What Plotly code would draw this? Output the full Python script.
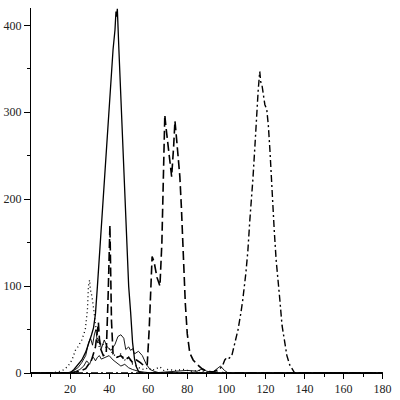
import plotly.graph_objects as go

# Series A: main solid peak near 44
x_A = [0,10,18,20,22,24,26,28,30,31,32,33,34,35,36,37,38,39,40,41,42,43,43.5,43.8,44.2,45,46,47,48,49,50,51,52,53,54,55,56,60,80,100,120,140,160,180]
y_A = [0,0,0,0,4,10,15,24,36,44,52,68,100,135,165,200,240,275,305,335,372,395,416,410,419,372,315,257,200,142,100,70,35,16,7,2,0,0,0,0,0,0,0,0]

# Series B: long dash, peaks near 70 and 74
x_B = [0,20,25,28,31,33,34.5,35.3,37,38.5,39.5,40.4,41.2,42,44,46,48,50,52,54,56,58,59.5,60.5,62,63,64.5,66,67,67.5,68,68.5,69,70,71,72,73,73.7,74.5,75.5,76.2,77,78,79,80,81.3,83,85,88,90,100,180]
y_B = [0,0,2,5,15,30,58,30,20,22,90,170,60,22,18,20,15,18,12,15,12,8,10,50,134,128,110,100,150,200,240,297,285,265,251,226,260,290,270,245,226,190,130,80,45,23,15,10,4,2,0,0]

# Series C: dash-dot, peak near 117
x_C = [0,80,90,93,95,96.7,98,99.2,100.3,101.5,102.8,104.3,106,107.5,108.4,110,111,112,113,113.6,114.6,115.5,116.3,117.1,117.6,118.2,119,119.7,120.7,121.5,122.3,123,123.6,124.5,125.5,126.5,127.4,128.5,129.9,131,132.5,134,135,140,180]
y_C = [0,0,0,1,3,5,8,15,18,17,20,35,50,70,84,115,140,175,200,223,260,300,325,347,335,332,320,309,303,285,257,225,200,165,130,100,84,55,35,20,9,3,0,0,0]

# Series D: dotted, peak near 30
x_D = [0,10,13,15,17,19,21,22.7,24,26,27.8,28.9,29.4,30,30.4,31.2,32,33,34,35,36,38,40,42,44,46,48,50,52,54,56,58,60,62,64,66,68,70,74,78,82,86,90,95,100,180]
y_D = [0,0,1,2,4,8,15,26,30,38,50,73,100,107,96,88,75,58,38,30,35,30,28,22,18,22,15,18,10,8,5,4,6,3,5,7,3,4,3,4,2,3,1,0,0,0]

# Series E: thin solid, low
x_E = [0,18,20,22,24,26,28,29.5,30.5,31.5,32.5,33.2,34,35,36,37.5,39,41,43,44.5,46,47.5,48.5,50,51,52,53,55,57,59,61,63,66,180]
y_E = [0,0,1,3,6,12,20,35,40,32,45,50,35,40,28,38,30,26,33,42,44,40,27,30,26,28,22,25,20,10,4,2,0,0]

# Series F: thin solid, lowest
x_F = [0,20,23,25,27,28.5,30,31,32,33,34,35,36,38,40,42,44,46,48,50,52,55,58,62,80,85,88,90,93,95,97,99,101,180]
y_F = [0,0,2,4,8,14,10,16,18,14,18,20,16,18,20,15,12,8,10,6,4,2,1,0,3,2,5,2,1,4,8,3,0,0]

x_ticks = [20, 40, 60, 80, 100, 120, 140, 160, 180]

series = [
    (x_A, y_A, "solid", 1.3),
    (x_B, y_B, "9px,4px", 1.6),
    (x_C, y_C, "7px,3px,2px,3px", 1.4),
    (x_D, y_D, "1px,3px", 1.3),
    (x_E, y_E, "solid", 0.9),
    (x_F, y_F, "solid", 0.9),
]

fig = go.Figure()
for xs, ys, dash, w in series:
    fig.add_trace(go.Scatter(x=xs, y=ys, mode="lines",
                             line=dict(color="black", width=w, dash=dash),
                             showlegend=False, hoverinfo="skip"))

tickfont = dict(family="Liberation Serif, Times New Roman, serif", size=12, color="#222")
fig.update_layout(
    width=400, height=400,
    margin=dict(l=31, r=17, t=8, b=27),
    paper_bgcolor="white", plot_bgcolor="white",
    xaxis=dict(range=[0, 180.2], tickmode="array", tickvals=x_ticks, automargin=False,
               showgrid=False, zeroline=False, showline=True, linecolor="black", linewidth=1,
               ticks="outside", ticklen=5, tickcolor="black", tickfont=tickfont,
               minor=dict(tickmode="linear", dtick=10, tick0=0, ticks="outside", ticklen=3,
                          tickcolor="black", showgrid=False)),
    yaxis=dict(range=[0, 420], tickmode="linear", tick0=0, dtick=100, automargin=False,
               showgrid=False, zeroline=False, showline=True, linecolor="black", linewidth=1,
               ticks="outside", ticklen=6, tickcolor="black", tickfont=tickfont,
               minor=dict(dtick=50, tick0=0, ticks="outside", ticklen=3, tickcolor="black", showgrid=False)),
)

fig.write_html("out.html", config={"displayModeBar": False, "staticPlot": True},
               post_script="document.body.style.margin='0px';document.body.style.overflow='hidden';")
